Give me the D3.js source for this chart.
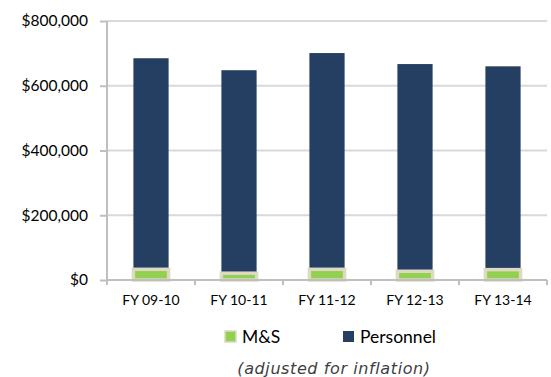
<!DOCTYPE html>
<html>
<head>
<meta charset="utf-8">
<script src="https://cdn.jsdelivr.net/npm/d3@7.9.0/dist/d3.min.js"></script>
<style>
  body { margin: 0; background: #fff; }
  svg { display: block; }
</style>
</head>
<body>
<svg width="551" height="377"></svg>
<script>
const years = ['FY 09-10', 'FY 10-11', 'FY 11-12', 'FY 12-13', 'FY 13-14'];
const msValues = [33000, 21000, 33000, 27000, 32000];
const personnelValues = [652000, 627000, 668000, 640000, 628000];
const yTicks = [0, 200000, 400000, 600000, 800000];
const seriesNames = ['M&S', 'Personnel'];
const colors = { 'M&S': '#92d050', 'Personnel': '#243f62' };

const svg = d3.select('svg');
const font = 'Lato, "Open Sans", sans-serif';

let x = d3.scaleBand().domain(years).range([107, 547]).paddingInner(0.6).paddingOuter(0.3);
let y = d3.scaleLinear().domain([0, 800000]).range([280, 21]);

// gridlines
svg.append('g')
  .selectAll('line')
  .data(yTicks.slice(1))
  .join('line')
  .attr('x1', 107).attr('x2', 547)
  .attr('y1', (d) => y(d)).attr('y2', (d) => y(d))
  .attr('stroke', '#d9d9d9').attr('stroke-width', 2);

// stacked bars
let rows = years.map((yr, i) => ({ year: yr, 'M&S': msValues[i], 'Personnel': personnelValues[i] }));
let stacked = d3.stack().keys(seriesNames)(rows);

let personnel = stacked[1];
svg.append('g')
  .selectAll('rect')
  .data(personnel)
  .join('rect')
  .attr('x', (d) => x(d.data.year))
  .attr('width', x.bandwidth())
  .attr('y', (d) => y(d[1]))
  .attr('height', (d) => y(d[0]) - y(d[1]))
  .attr('fill', colors['Personnel']);

let ms = stacked[0];
svg.append('g')
  .selectAll('rect')
  .data(ms)
  .join('rect')
  .attr('x', (d) => x(d.data.year))
  .attr('width', x.bandwidth())
  .attr('y', (d) => y(d[1]))
  .attr('height', (d) => y(d[0]) - y(d[1]))
  .attr('fill', colors['M&S'])
  .attr('stroke', '#ddd9c3')
  .attr('stroke-width', 3.5);

// y axis
let yAxis = d3.axisLeft(y).tickValues(yTicks).tickSize(7).tickPadding(12)
  .tickFormat((d) => '$' + d3.format(',')(d));
let gy = svg.append('g').attr('transform', 'translate(107,0)').call(yAxis);
gy.select('.domain').attr('stroke', '#bfbfbf').attr('stroke-width', 2).attr('d', 'M0,21V280');
gy.selectAll('.tick line').attr('stroke', '#bfbfbf').attr('stroke-width', 2);
gy.selectAll('.tick text').attr('font-family', font).attr('font-size', 15.5).attr('fill', '#000');

// x axis
let xAxis = d3.axisBottom(x).tickSize(0).tickPadding(15);
let gx = svg.append('g').attr('transform', 'translate(0,280)').call(xAxis);
gx.select('.domain').attr('stroke', '#bfbfbf').attr('stroke-width', 2).attr('d', 'M107,0H547');
gx.selectAll('.tick line').remove();
gx.selectAll('.tick text').attr('font-family', font).attr('font-size', 14).attr('fill', '#000');
let bounds = [107].concat(years.map((yr) => x(yr) + x.bandwidth() / 2 + x.step() / 2));
gx.append('g').selectAll('line')
  .data(bounds)
  .join('line')
  .attr('x1', (d) => d).attr('x2', (d) => d)
  .attr('y1', 0).attr('y2', 5)
  .attr('stroke', '#bfbfbf').attr('stroke-width', 2);

// legend
let legend = svg.append('g');
let legendX = [225, 343];
seriesNames.forEach((name, i) => {
  let g = legend.append('g').attr('transform', `translate(${legendX[i]},331)`);
  g.append('rect')
    .attr('width', 11).attr('height', 11)
    .attr('fill', colors[name])
    .attr('stroke', name === 'M&S' ? '#ddd9c3' : 'none')
    .attr('stroke-width', 1.5);
  g.append('text')
    .attr('x', 17).attr('y', 6)
    .attr('dy', '0.35em')
    .attr('font-family', font).attr('font-size', 17.5)
    .text(name);
});

svg.append('text')
  .attr('x', 334).attr('y', 368)
  .attr('dy', '0.35em')
  .attr('text-anchor', 'middle')
  .attr('font-family', '"DejaVu Sans", Verdana, sans-serif')
  .attr('font-style', 'italic')
  .attr('font-size', 16)
  .attr('letter-spacing', 0.6)
  .attr('fill', '#404040')
  .text('(adjusted for inflation)');
</script>
</body>
</html>
